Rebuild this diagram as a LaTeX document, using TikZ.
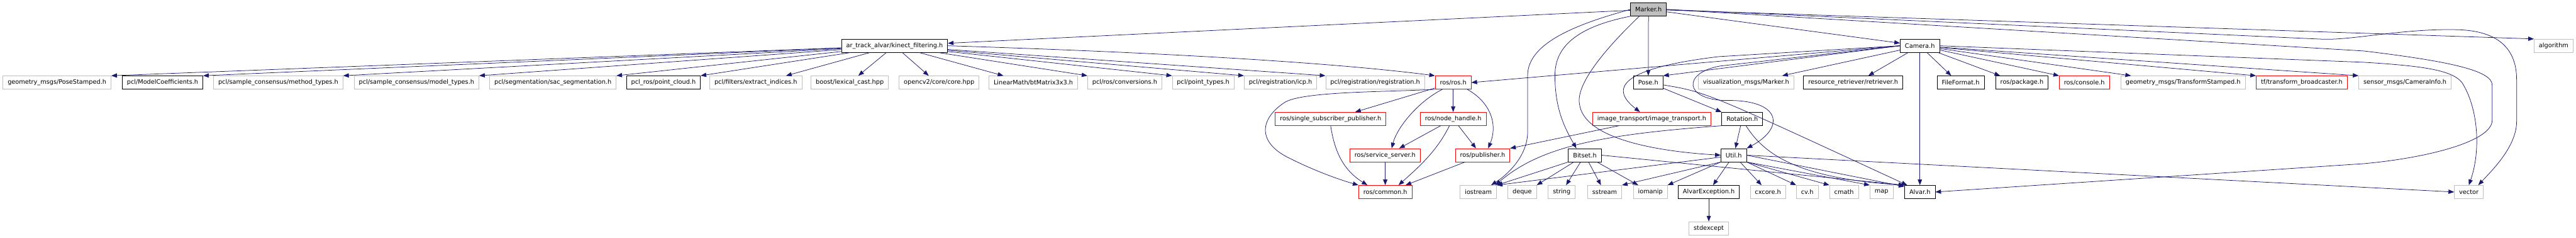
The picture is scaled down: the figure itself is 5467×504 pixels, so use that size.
\documentclass[tikz,border=0pt]{standalone}
\usepackage{fontspec}
\setmainfont{DejaVu Sans}
\usetikzlibrary{arrows.meta}
\definecolor{edgeblue}{HTML}{191970}
\definecolor{extgray}{HTML}{BFBFBF}
\definecolor{truncred}{HTML}{FF0000}

\begin{document}
\begin{tikzpicture}[x=1pt,y=-1pt,
		hdr/.style={rectangle,draw,line width=1pt,minimum height=28pt,inner xsep=10pt,inner ysep=0pt,font=\fontsize{13}{15}\selectfont},
		doc/.style={hdr,draw=black},
		ext/.style={hdr,draw=extgray},
		trunc/.style={hdr,draw=truncred},
		dep/.style={edgeblue,line width=1pt,-{Triangle[length=12pt,width=9pt]}}]
		\useasboundingbox (0,0) rectangle (5467,504);

		\node[doc,fill=extgray] (marker) at (3498.5,20) {Marker.h};

		\node[doc] (kinect) at (1898.5,97) {ar\_track\_alvar/kinect\_filtering.h};
		\node[doc] (camera) at (4074.5,97) {Camera.h};
		\node[ext] (algorithm) at (5419.5,97) {algorithm};

		\node[ext] (posestamped) at (121,175) {geometry\_msgs/PoseStamped.h};
		\node[doc] (modelcoef) at (345,175) {pcl/ModelCoefficients.h};
		\node[ext] (methodtypes) at (590.5,175) {pcl/sample\_consensus/method\_types.h};
		\node[ext] (modeltypes) at (884,175) {pcl/sample\_consensus/model\_types.h};
		\node[ext] (sacseg) at (1173.5,175) {pcl/segmentation/sac\_segmentation.h};
		\node[doc] (pointcloud) at (1408,175) {pcl\_ros/point\_cloud.h};
		\node[ext] (extractidx) at (1604,175) {pcl/filters/extract\_indices.h};
		\node[ext] (lexicalcast) at (1803.5,175) {boost/lexical\_cast.hpp};
		\node[ext] (corehpp) at (1993,175) {opencv2/core/core.hpp};
		\node[ext] (btmatrix) at (2193,175) {LinearMath/btMatrix3x3.h};
		\node[ext] (conversions) at (2387,175) {pcl/ros/conversions.h};
		\node[ext] (pointtypes) at (2553.5,175) {pcl/point\_types.h};
		\node[ext] (icp) at (2717.5,175) {pcl/registration/icp.h};
		\node[ext] (registration) at (2918.5,175) {pcl/registration/registration.h};
		\node[trunc] (rosros) at (3084,175) {ros/ros.h};
		\node[doc] (pose) at (3498,175) {Pose.h};
		\node[ext] (vismarker) at (3705.5,175) {visualization\_msgs/Marker.h};
		\node[doc] (retriever) at (3933,175) {resource\_retriever/retriever.h};
		\node[doc] (fileformat) at (4161,175) {FileFormat.h};
		\node[doc] (rospackage) at (4291,175) {ros/package.h};
		\node[trunc] (rosconsole) at (4423.5,175) {ros/console.h};
		\node[ext] (tfstamped) at (4633,175) {geometry\_msgs/TransformStamped.h};
		\node[trunc] (tfbroad) at (4885,175) {tf/transform\_broadcaster.h};
		\node[ext] (camerainfo) at (5104,175) {sensor\_msgs/CameraInfo.h};

		\node[trunc] (singlesub) at (2824,252) {ros/single\_subscriber\_publisher.h};
		\node[trunc] (nodehandle) at (3084,252) {ros/node\_handle.h};
		\node[trunc] (imagetrans) at (3505.5,252) {image\_transport/image\_transport.h};
		\node[doc] (rotation) at (3697.5,252) {Rotation.h};

		\node[trunc] (srvserver) at (2939.5,329) {ros/service\_server.h};
		\node[trunc] (publisher) at (3146.5,329) {ros/publisher.h};
		\node[doc] (bitset) at (3363.5,329) {Bitset.h};
		\node[doc] (util) at (3679.5,329) {Util.h};

		\node[trunc] (common) at (2940,407) {ros/common.h};
		\node[ext] (iostream) at (3137.5,407) {iostream};
		\node[ext] (deque) at (3230.5,407) {deque};
		\node[ext] (string) at (3314.5,407) {string};
		\node[ext] (sstream) at (3405.5,407) {sstream};
		\node[ext] (iomanip) at (3502.5,407) {iomanip};
		\node[doc] (alvarexc) at (3626.5,407) {AlvarException.h};
		\node[ext] (cxcore) at (3752,407) {cxcore.h};
		\node[ext] (cvh) at (3835.5,407) {cv.h};
		\node[ext] (cmath) at (3913.5,407) {cmath};
		\node[ext] (map) at (3993,407) {map};
		\node[doc] (alvarh) at (4074.5,407) {Alvar.h};
		\node[ext] (vector) at (5239.5,407) {vector};

		\node[ext] (stdexcept) at (3626.5,484) {stdexcept};

		% Marker.h
		\draw[dep] (marker) -- (kinect);
		\draw[dep] (marker) -- (camera);
		\draw[dep] (marker) -- (algorithm.north west);
		\draw[dep] (marker) -- (pose);
		\draw[dep] (marker.west) .. controls (3350,50) and (3242,90) .. (3242,160) -- (3242,280) .. controls (3242,330) and (3200,370) .. ([xshift=-12pt]iostream.north east);
		\draw[dep] (marker.south west) .. controls (3330,60) and (3300,110) .. (3300,160) .. controls (3300,230) and (3320,270) .. ([xshift=-18pt]bitset.north);
		\draw[dep] ([xshift=19pt]marker.south west) .. controls (3400,110) and (3345,180) .. (3352,220) .. controls (3360,290) and (3500,320) .. (util.west);
		\draw[dep] (marker.east) -- (4927,83) .. controls (4990,86) and (5100,60) .. (5216,63) .. controls (5320,66) and (5341,120) .. (5341,170) -- (5341,257) .. controls (5341,310) and (5290,360) .. ([xshift=20pt]vector.north);
		\draw[dep] (marker.east) -- (5016,108) .. controls (5200,130) and (5289,150) .. (5289,180) -- (5289,255) .. controls (5289,300) and (5150,335) .. (5016,347) -- (alvarh.east);

		% kinect_filtering.h
		\foreach \t in {posestamped,modelcoef,methodtypes,modeltypes,sacseg,pointcloud}
			\draw[dep] (kinect) -- (\t.north east);
		\draw[dep] (kinect) -- ([xshift=-34pt]extractidx.north east);
		\draw[dep] (kinect) -- ([xshift=18pt]lexicalcast.north);
		\draw[dep] (kinect) -- ([xshift=-22pt]corehpp.north);
		\draw[dep] (kinect) -- ([xshift=31pt]btmatrix.north west);
		\foreach \t in {conversions,pointtypes,icp,registration}
			\draw[dep] (kinect) -- (\t.north west);
		\draw[dep] (kinect.east) .. controls (2500,112) and (2850,135) .. (rosros.north west);

		% Camera.h
		\draw[dep] (camera.west) -- (3648,120) .. controls (3480,140) and (3400,175) .. ([xshift=-25pt]imagetrans.north);
		\draw[dep] (camera.west) -- (rosros.east);
		\draw[dep] (camera.west) -- (3650,140) .. controls (3570,155) and (3575,210) .. (3660,213) .. controls (3780,210) and (3790,270) .. (util.north east);
		\draw[dep] (camera.west) -- (pose.north east);
		\draw[dep] (camera) -- ([xshift=-25pt]vismarker.north east);
		\draw[dep] (camera) -- ([xshift=32pt]retriever.north);
		\draw[dep] (camera) -- (alvarh);
		\draw[dep] (camera) -- ([xshift=-20pt]fileformat.north);
		\draw[dep] (camera) -- ([xshift=10pt]rospackage.north west);
		\draw[dep] (camera) -- (rosconsole.north west);
		\draw[dep] (camera) -- ([xshift=22pt]tfstamped.north west);
		\draw[dep] (camera) -- (tfbroad.north west);
		\draw[dep] (camera) -- (camerainfo.north west);
		\draw[dep] (camera.east) -- (5016,132) .. controls (5150,140) and (5205,150) .. (5225,175) .. controls (5260,230) and (5265,320) .. (vector.north);

		% ros/ros.h
		\draw[dep] (rosros) -- ([xshift=52pt]singlesub.north);
		\draw[dep] (rosros) -- (nodehandle);
		\draw[dep] ([xshift=-23pt]rosros.south) .. controls (3010,215) and (2965,270) .. ([xshift=14pt]srvserver.north);
		\draw[dep] ([xshift=30pt]rosros.south) .. controls (3160,215) and (3180,260) .. ([xshift=12pt]publisher.north);
		\draw[dep] (rosros.south west) .. controls (2950,195) and (2760,193) .. (2725,218) .. controls (2670,255) and (2670,305) .. (2740,337) .. controls (2790,362) and (2840,380) .. (common.north west);
		\draw[dep] (singlesub.south) .. controls (2832,320) and (2850,360) .. ([xshift=-38pt]common.north);
		\draw[dep] (nodehandle) -- ([xshift=30pt]srvserver.north);
		\draw[dep] (nodehandle) -- ([xshift=-14pt]publisher.north);
		\draw[dep] ([xshift=-8pt]nodehandle.south) .. controls (3050,320) and (3010,355) .. ([xshift=28pt]common.north);
		\draw[dep] (srvserver) -- (common);
		\draw[dep] (publisher) -- ([xshift=43pt]common.north);
		\draw[dep] (imagetrans) -- (publisher.north east);

		% Pose.h, Rotation.h
		\draw[dep] ([yshift=-5pt]pose.east) .. controls (3620,195) .. ([xshift=6pt]alvarh.north west);
		\draw[dep] ([yshift=-12pt]pose.east) -- (rotation.north west);
		\draw[dep] (rotation) -- (util);
		\draw[dep] ([xshift=8pt]rotation.south) .. controls (3745,330) and (3820,378) .. (alvarh.north west);
		\draw[dep] (rotation.south west) .. controls (3400,285) and (3270,310) .. ([xshift=-3pt]iostream.north east);

		% Bitset.h
		\draw[dep] (bitset.south west) -- (iostream.north east);
		\draw[dep] (bitset) -- (deque.north east);
		\draw[dep] (bitset) -- (string);
		\draw[dep] (bitset) -- (sstream);
		\draw[dep] (bitset) -- (iomanip);
		\draw[dep] (bitset.east) -- (alvarh.north west);

		% Util.h
		\draw[dep] ([yshift=-4pt]util.west) -- (iostream.north east);
		\draw[dep] (util.south west) -- (sstream.north east);
		\draw[dep] (util.south west) -- (iomanip.north east);
		\draw[dep] (util) -- ([xshift=9pt]alvarexc.north);
		\draw[dep] (util) -- (cxcore);
		\draw[dep] (util.south east) -- (cvh.north west);
		\draw[dep] (util.south east) -- (cmath.north west);
		\draw[dep] (util.south east) -- (map.north west);
		\draw[dep] (util.east) -- ([yshift=-3pt]alvarh.north west);
		\draw[dep] (util.east) -- (vector.west);

		\draw[dep] (alvarexc) -- (stdexcept);
	\end{tikzpicture}
\end{document}
